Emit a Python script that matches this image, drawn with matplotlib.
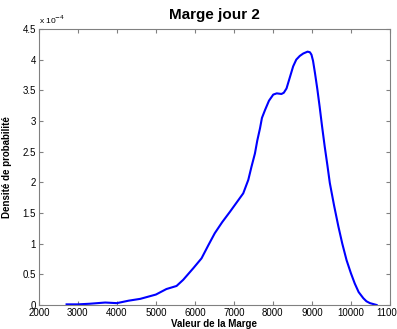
import numpy as np
import matplotlib.pyplot as plt

plt.rcParams['font.family'] = ['Liberation Sans', 'DejaVu Sans']

# density in units of 1e-4
marge = [2710, 3000, 3300, 3700, 4000, 4300, 4600, 5000, 5270, 5530, 5700, 5960,
         6170, 6350, 6510, 6700, 6900, 7070, 7240, 7370, 7450, 7540, 7600, 7670,
         7720, 7800, 7900, 8010, 8100, 8220, 8280, 8350, 8520, 8600, 8690, 8780,
         8890, 8950, 8990, 9030, 9080, 9140, 9200, 9260, 9330, 9400, 9460, 9570,
         9680, 9780, 9890, 10000, 10100, 10200, 10320, 10400, 10490, 10660]
densite = [0.01, 0.01, 0.02, 0.04, 0.03, 0.07, 0.10, 0.17, 0.26, 0.31, 0.41, 0.60,
           0.76, 0.98, 1.17, 1.35, 1.52, 1.67, 1.82, 2.04, 2.25, 2.47, 2.68, 2.88,
           3.05, 3.18, 3.33, 3.43, 3.45, 3.44, 3.46, 3.53, 3.89, 4.00, 4.06, 4.10,
           4.13, 4.12, 4.08, 3.98, 3.78, 3.52, 3.23, 2.92, 2.58, 2.27, 1.99, 1.62,
           1.28, 1.00, 0.73, 0.52, 0.35, 0.21, 0.11, 0.06, 0.03, 0.0]
xticks = [2000, 3000, 4000, 5000, 6000, 7000, 8000, 9000, 10000, 11000]
yticks = [0, 0.5, 1, 1.5, 2, 2.5, 3, 3.5, 4, 4.5]

fig = plt.figure(figsize=(3.97, 3.29), dpi=100)
ax = fig.add_axes([0.098, 0.073, 0.884, 0.839])
ax.plot(marge, densite, color='#0000ff', lw=1.5)
ax.set_xlim(2000, 11000)
ax.set_ylim(0, 4.5)
ax.set_xticks(xticks)
ax.set_yticks(yticks)
ax.set_yticklabels(['0', '0.5', '1', '1.5', '2', '2.5', '3', '3.5', '4', '4.5'])
ax.tick_params(direction='in', top=True, right=True, labelsize=7, length=3,
               color='#808080', pad=2)
for s in ax.spines.values():
    s.set_color('#808080')
    s.set_linewidth(0.8)
ax.set_title('Marge jour 2', fontsize=11, fontweight='bold', pad=7)
ax.set_xlabel('Valeur de la Marge', fontsize=7, fontweight='bold', labelpad=1)
ax.set_ylabel('Densité de probabilité', fontsize=7, fontweight='bold', labelpad=8)
ax.text(0.0, 1.01, r'x 10$^{-4}$', transform=ax.transAxes, fontsize=6, va='bottom')

fig.savefig('out.png', dpi=100)
